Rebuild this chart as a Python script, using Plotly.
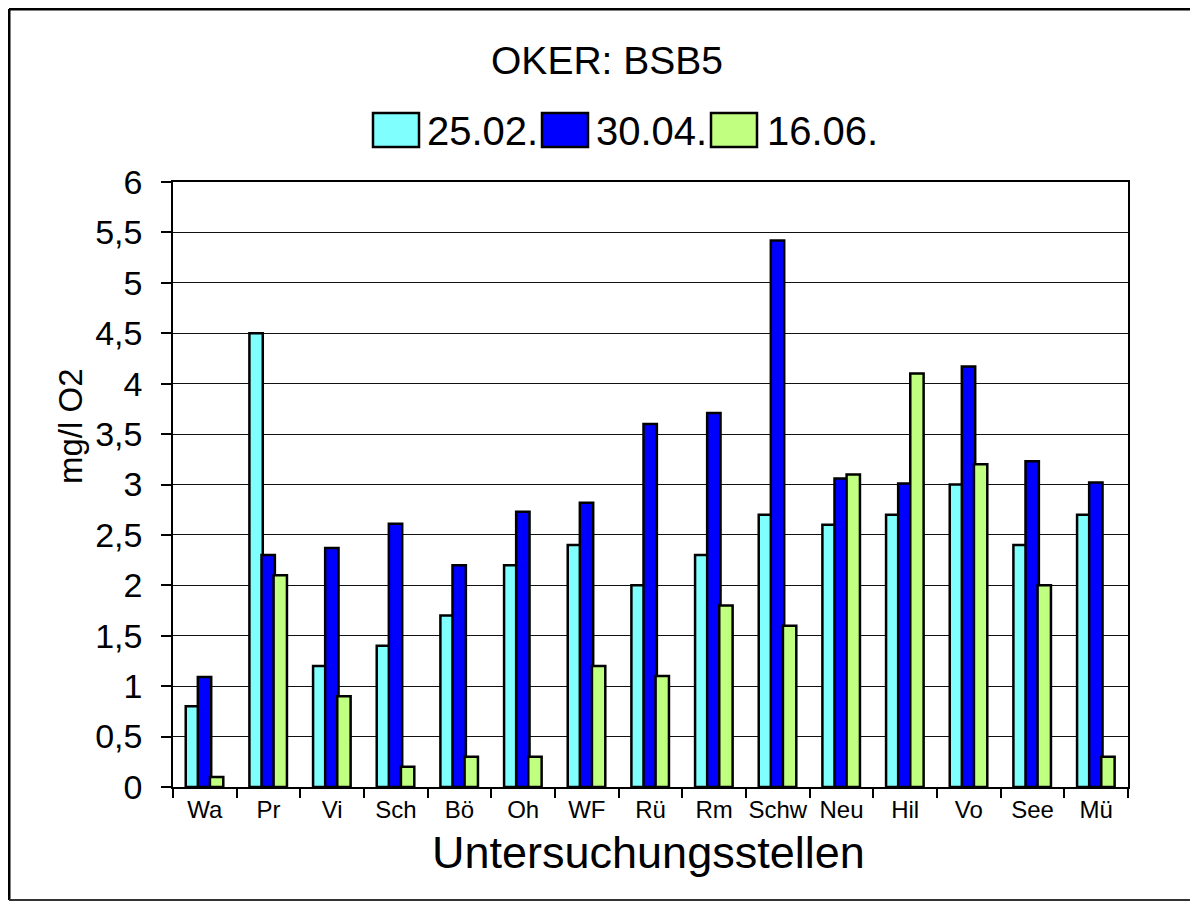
import plotly.graph_objects as go

# Untersuchungsstellen an der Oker und BSB5-Werte (mg/l O2)
stellen = ["Wa", "Pr", "Vi", "Sch", "Bö", "Oh", "WF", "Rü", "Rm", "Schw", "Neu", "Hil", "Vo", "See", "Mü"]
termine = ["25.02.", "30.04.", "16.06."]
bsb_2502 = [0.8, 4.5, 1.2, 1.4, 1.7, 2.2, 2.4, 2.0, 2.3, 2.7, 2.6, 2.7, 3.0, 2.4, 2.7]
bsb_3004 = [1.09, 2.3, 2.37, 2.61, 2.2, 2.73, 2.82, 3.6, 3.71, 5.42, 3.06, 3.01, 4.17, 3.23, 3.02]
bsb_1606 = [0.1, 2.1, 0.9, 0.2, 0.3, 0.3, 1.2, 1.1, 1.8, 1.6, 3.1, 4.1, 3.2, 2.0, 0.3]
farben = ["#80ffff", "#0000ff", "#c0ff80"]

W, H = 1198, 902
OFF = 8  # body-Rand der HTML-Seite
# Plotbereich in Seitenpixeln
L, R, T, B = 173, 1128, 182, 787
FONT = "Liberation Sans, Arial, sans-serif"
FIG_W = W - 2 * OFF
FIG_H = H - OFF


def px(x):
    return (x - L) / (R - L)


def py(y):
    return (B - y) / (B - T)


fig = go.Figure()
werte = [bsb_2502, bsb_3004, bsb_1606]
offsets = [-0.30, -0.11, 0.08]
for name, vals, farbe, off in zip(termine, werte, farben, offsets):
    fig.add_trace(go.Bar(
        x=stellen, y=vals, name=name,
        marker=dict(color=farbe, line=dict(color="black", width=2.5)),
        width=0.21, offset=off,
        showlegend=False,
    ))

# Legende nachgebaut (große Kästchen wie im Original)
shapes = []
annotations = []
box_x = [373, 542, 711]
text_x = [427, 596, 767]
for i, name in enumerate(termine):
    shapes.append(dict(type="rect", xref="paper", yref="paper",
                       x0=px(box_x[i]), x1=px(box_x[i] + 46),
                       y0=py(147), y1=py(113),
                       fillcolor=farben[i], line=dict(color="black", width=2.5)))
    annotations.append(dict(text=name, xref="paper", yref="paper",
                            x=px(text_x[i] - 2), y=py(131), xanchor="left", yanchor="middle",
                            showarrow=False, font=dict(size=40, color="black")))

# Achsentitel
annotations.append(dict(text="Untersuchungsstellen", xref="paper", yref="paper",
                        x=px(648), y=py(852), xanchor="center", yanchor="middle",
                        showarrow=False, font=dict(size=45, color="black")))
annotations.append(dict(text="mg/l O2", xref="paper", yref="paper",
                        x=px(70), y=py(426), xanchor="center", yanchor="middle",
                        textangle=-90, showarrow=False, font=dict(size=33, color="black")))

# Rahmen um das Diagramm (rechts offen wie im Original)
shapes.append(dict(type="line", xref="paper", yref="paper",
                   x0=px(9), x1=px(1210), y0=py(9), y1=py(9), line=dict(color="black", width=3)))
shapes.append(dict(type="line", xref="paper", yref="paper",
                   x0=px(9), x1=px(9), y0=py(9), y1=py(900), line=dict(color="black", width=3)))
shapes.append(dict(type="line", xref="paper", yref="paper",
                   x0=px(9), x1=px(1210), y0=py(900), y1=py(900), line=dict(color="#333333", width=2)))

fig.update_layout(
    width=FIG_W, height=FIG_H,
    margin=dict(l=L - OFF, r=OFF + FIG_W - R, t=T - OFF, b=OFF + FIG_H - B),
    paper_bgcolor="white", plot_bgcolor="white",
    barmode="overlay",
    separators=",.",
    font=dict(family=FONT, color="black"),
    title=dict(text="OKER: BSB5", xref="container", yref="container",
               x=(607 - OFF) / FIG_W, y=1 - (60 - OFF) / FIG_H,
               xanchor="center", yanchor="middle",
               font=dict(size=39, color="black")),
    shapes=shapes,
    annotations=annotations,
)
fig.update_xaxes(
    type="category", tickson="boundaries", ticks="outside", ticklen=9,
    tickcolor="black", tickwidth=1.5, tickangle=0,
    showline=True, linecolor="black", linewidth=1.5, mirror=True,
    showgrid=False, tickfont=dict(size=24, color="black"),
)
fig.update_yaxes(
    range=[0, 6], dtick=0.5, ticks="outside", ticklen=10,
    tickcolor="black", tickwidth=1.5, ticklabelstandoff=12,
    showline=True, linecolor="black", linewidth=1.5, mirror=True,
    showgrid=True, gridcolor="#111111", gridwidth=1,
    zeroline=False, tickfont=dict(size=34, color="black"),
)

fig.write_html("out.html")
